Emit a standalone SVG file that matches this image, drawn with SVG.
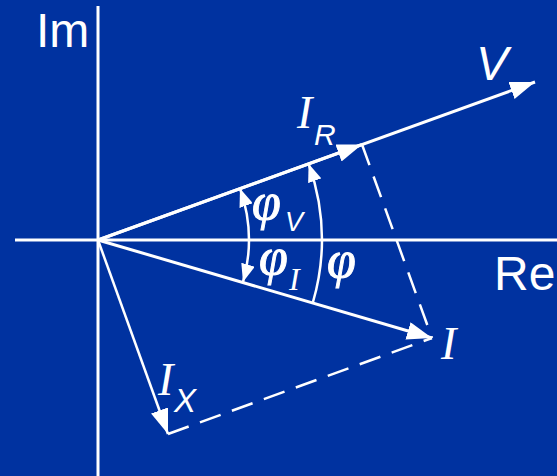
<svg xmlns="http://www.w3.org/2000/svg" width="557" height="476" viewBox="0 0 557 476">
<style>
.ax{stroke:#fff;stroke-width:3;fill:none}
.vec{stroke:#fff;stroke-width:3;fill:none;marker-end:url(#ah)}
.dash{stroke:#fff;stroke-width:2.5;fill:none;stroke-dasharray:22 12}
.arc{stroke:#fff;stroke-width:2.5;fill:none;marker-end:url(#sh)}
.sans{font-family:"Liberation Sans",Arial,sans-serif;fill:#fff}
.serif{font-family:"Liberation Serif","Times New Roman",serif;font-style:italic;fill:#fff}
.phi{stroke:#fff;stroke-width:1}
</style>
<defs>
<marker id="ah" markerUnits="userSpaceOnUse" markerWidth="25" markerHeight="18" refX="25" refY="9" orient="auto"><path d="M0,0 L25,9 L0,18 z" fill="#fff"/></marker>
<marker id="sh" markerUnits="userSpaceOnUse" markerWidth="18" markerHeight="14" refX="18" refY="7" orient="auto"><path d="M0,0 L18,7 L0,14 z" fill="#fff"/></marker>
</defs>
<rect width="557" height="476" fill="#0032A0"/>
<g id="axes">
<line class="ax" x1="98" y1="6" x2="98" y2="476"/>
<line class="ax" x1="15" y1="240" x2="557" y2="240"/>
</g>
<g id="connectors">
<line class="vec" x1="98" y1="240" x2="535" y2="82"/>
<line class="vec" x1="98" y1="240" x2="362" y2="144.5"/>
<line class="vec" x1="98" y1="240" x2="432" y2="338"/>
<line class="vec" x1="98" y1="240" x2="168" y2="434" style="stroke-width:2.5"/>
<line class="dash" x1="362" y1="144.5" x2="432" y2="338"/>
<line class="dash" x1="168" y1="434" x2="432" y2="338"/>
</g>
<g id="angles">
<path class="arc" d="M249,240 A151,151 0 0 0 240,188.6"/>
<path class="arc" d="M249,240 A151,151 0 0 1 243,282"/>
<path class="arc" d="M322,240 A224,224 0 0 0 308.6,163.8"/>
<path d="M322,240 A224,224 0 0 1 313,302" style="stroke:#fff;stroke-width:2.5;fill:none"/>
</g>
<g id="labels">
<text class="sans" x="36" y="47" font-size="48">Im</text>
<text class="sans" x="494" y="290" font-size="48">Re</text>
<text class="sans" x="476" y="80" font-size="48" font-style="italic">V</text>
<text class="serif" x="297" y="128" font-size="46">I</text>
<text class="sans" x="314" y="145" font-size="30" font-style="italic">R</text>
<text class="serif" x="441" y="359" font-size="46">I</text>
<text class="serif" x="158" y="395" font-size="46">I</text>
<text class="sans" x="174" y="412" font-size="33" font-style="italic">X</text>
<text class="serif phi" x="252" y="219" font-size="52">φ</text>
<text class="sans" x="285" y="231" font-size="27" font-style="italic">V</text>
<text class="serif phi" x="259" y="274" font-size="52">φ</text>
<text class="serif" x="289" y="290" font-size="32">I</text>
<text class="serif phi" x="327" y="277" font-size="52">φ</text>
</g>
</svg>
